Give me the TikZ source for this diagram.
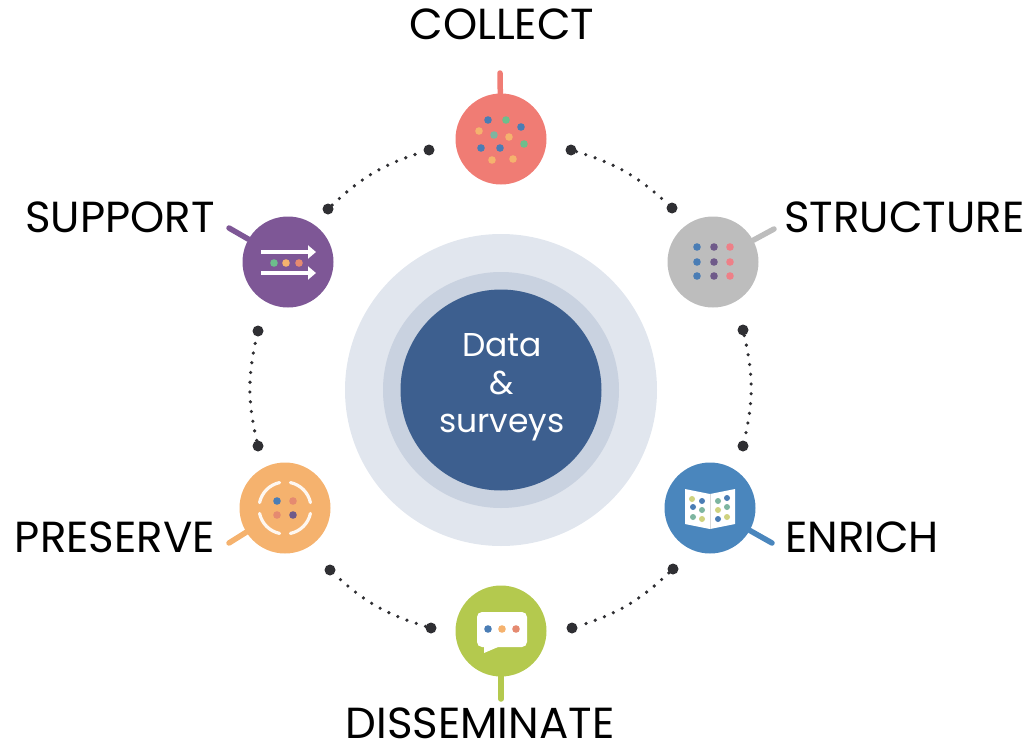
\documentclass[tikz,border=0pt]{standalone}
\usepackage{fontspec}
\setmainfont{Poppins}
\usepackage{xcolor}
\usepackage{tikz}
\usetikzlibrary{arrows.meta}

\definecolor{collectcol}{HTML}{F07C74}
\definecolor{structurecol}{HTML}{BDBDBD}
\definecolor{enrichcol}{HTML}{4A86BD}
\definecolor{disseminatecol}{HTML}{B4C94E}
\definecolor{preservecol}{HTML}{F5B26E}
\definecolor{supportcol}{HTML}{7E5796}
\definecolor{dotcol}{HTML}{2F2F33}
\definecolor{ringa}{HTML}{E1E6EE}
\definecolor{ringb}{HTML}{C9D2E0}
\definecolor{hubcol}{HTML}{3D5F8F}
\definecolor{iblue}{HTML}{4A7DB5}
\definecolor{igreen}{HTML}{6DBE8C}
\definecolor{iorange}{HTML}{F5B26E}
\definecolor{iteal}{HTML}{7DB5A0}
\definecolor{ipurple}{HTML}{6F5A8A}
\definecolor{ipink}{HTML}{EE8088}
\definecolor{iyellow}{HTML}{CFD27E}
\definecolor{isalmon}{HTML}{E58A70}

\tikzset{
  phase/.style={circle, minimum size=91pt, inner sep=0pt},
  stem/.style={line width=5.5pt, line cap=round},
  dot/.style={circle, fill=dotcol, minimum size=11pt, inner sep=0pt},
  dots/.style={dotcol, line width=3.6pt, line cap=round, dash pattern=on 0pt off 9.8pt},
  label/.style={font=\fontsize{43.5}{43.5}\selectfont, text=black, inner sep=0pt},
}

\begin{document}
\begin{tikzpicture}[x=1pt, y=-1pt, -]
    \useasboundingbox (0,0) rectangle (1029,744);

    % centre
    \node[circle, fill=ringa, minimum size=312pt, inner sep=0pt] (outer) at (501,390) {};
    \node[circle, fill=ringb, minimum size=236pt, inner sep=0pt] (middle) at (501,390) {};
    \node[circle, fill=hubcol, minimum size=201pt, inner sep=0pt] (hub) at (501,390) {};
    \node[text=white, align=center, inner sep=0pt,
          font=\fontsize{33}{38}\selectfont] (hubtext) at (502,387) {Data\\\&\\surveys};

    % phases
    \node[phase, fill=collectcol] (collect) at (501,139) {};
    \node[phase, fill=structurecol] (structure) at (713,262) {};
    \node[phase, fill=enrichcol] (enrich) at (710,508) {};
    \node[phase, fill=disseminatecol] (disseminate) at (501,631) {};
    \node[phase, fill=preservecol] (preserve) at (285,508) {};
    \node[phase, fill=supportcol] (support) at (288,262) {};

    \coordinate (collectend) at (500,73);
    \coordinate (structureend) at (774,229);
    \coordinate (enrichend) at (772,543);
    \coordinate (disseminateend) at (501,699);
    \coordinate (preserveend) at (229,543);
    \coordinate (supportend) at (229,228);
    \draw[stem, collectcol] (collect) -- (collectend);
    \draw[stem, structurecol] (structure) -- (structureend);
    \draw[stem, enrichcol] (enrich) -- (enrichend);
    \draw[stem, disseminatecol] (disseminate) -- (disseminateend);
    \draw[stem, preservecol] (preserve) -- (preserveend);
    \draw[stem, supportcol] (support) -- (supportend);

    % labels
    \node[label] (collectlabel) at (502,24) {COLLECT};
    \node[label, anchor=west] (structurelabel) at (784,217) {STRUCTURE};
    \node[label, anchor=west] (enrichlabel) at (785,537) {ENRICH};
    \node[label, anchor=base] (disseminatelabel) at (480,738) {DISSEMINATE};
    \node[label, anchor=east] (preservelabel) at (215,537) {PRESERVE};
    \node[label, anchor=east] (supportlabel) at (215,217) {SUPPORT};

    % end dots of the dotted arcs
    \foreach \name/\x/\y in {a1/571/150, a2/672/208, b1/743/330, b2/743/446,
                             c1/673/569, c2/572/628, d1/431/628, d2/330/570,
                             e1/258/446, e2/258/331, f1/328/209, f2/429/150}
      \node[dot] (\name) at (\x,\y) {};

    \draw[dots] (a1) to[bend left=13] (a2);
    \draw[dots] (b1) to[bend left=13] (b2);
    \draw[dots] (c1) to[bend left=13] (c2);
    \draw[dots] (d1) to[bend left=13] (d2);
    \draw[dots] (e1) to[bend left=13] (e2);
    \draw[dots] (f1) to[bend left=13] (f2);

    % collect icon
    \foreach \x/\y/\c in {488/120/iblue, 506/120/igreen, 521/127/iblue, 479/131/iorange,
                          494/135/iteal, 509/137/iorange, 524/144/igreen, 481/148/iblue,
                          500/148/iblue, 492/160/iorange, 513/159/iorange}
      \fill[\c] (\x,\y) circle (3.8);

    % structure icon
    \foreach \x/\c in {697/iblue, 714/ipurple, 730/ipink}
      \foreach \y in {247,262,276}
        \fill[\c] (\x,\y) circle (3.8);

    % enrich icon
    \fill[white] (685,489) -- (710,494) -- (735,489) -- (735,524) -- (710,529) -- (685,524) -- cycle;
    \draw[black!15, line width=0.6pt] (710,494) -- (710,529);
    \foreach \x/\y/\c in {692/499/iyellow, 702/501/iblue, 693/507/iblue, 702/510/iteal,
                          693/517/iteal, 702/519/iyellow, 718/501/iteal, 727/498/iblue,
                          718/510/iyellow, 727/507/iteal, 718/519/iblue, 727/517/iyellow}
      \fill[\c] (\x,\y) circle (3);

    % disseminate icon
    \fill[white, rounded corners=5pt] (477,612) rectangle (527,647);
    \fill[white] (484,644) -- (498,647) -- (484,653) -- cycle;
    \fill[iblue] (488,629) circle (3.8);
    \fill[iorange] (502,629) circle (3.8);
    \fill[isalmon] (516,629) circle (3.8);

    % preserve icon
    \foreach \a in {0,90,180,270}
      \draw[white!90!preservecol, line width=3.2pt, line cap=round]
        (285,508) ++(\a+12:26) arc[start angle=\a+12, delta angle=66, radius=26];
    \fill[iblue] (277,501) circle (3.8);
    \fill[isalmon] (293,501) circle (3.8);
    \fill[isalmon] (277,515) circle (3.8);
    \fill[ipurple] (293,515) circle (3.8);

    % support icon
    \draw[white, line width=3.4pt, -{Triangle[length=8pt, width=13pt]}] (261,252) -- (316,252);
    \draw[white, line width=3.4pt, -{Triangle[length=8pt, width=13pt]}] (261,273) -- (316,273);
    \fill[igreen] (274,263) circle (3.8);
    \fill[iorange] (286,263) circle (3.8);
    \fill[isalmon] (299,263) circle (3.8);
\end{tikzpicture}
\end{document}
